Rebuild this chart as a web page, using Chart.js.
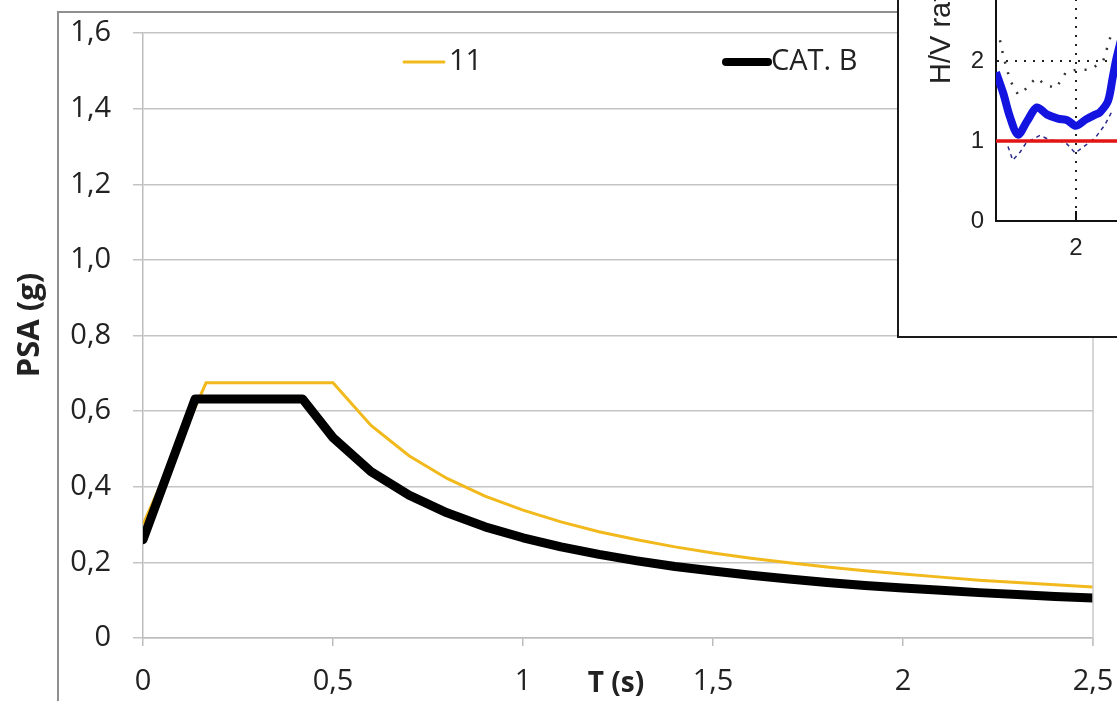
<!DOCTYPE html>
<html>
<head>
<meta charset="utf-8">
<script src="https://cdn.jsdelivr.net/npm/chart.js@4"></script>
<style>
  html, body { margin: 0; padding: 0; background: #fff; overflow: hidden; }
  #wrap { position: relative; width: 1117px; height: 701px; overflow: hidden; }
  #main { position: absolute; left: 0; top: 0; }
  #inset { position: absolute; left: 897px; top: -40px; width: 300px; height: 374px;
           border: 2px solid #1a1a1a; background: #fff; }
</style>
</head>
<body>
<div id="wrap">
  <canvas id="main" width="1117" height="701"></canvas>
  <div id="inset"><canvas id="hv" width="300" height="374"></canvas></div>
</div>
<script>
// Spectrum data (T in s, PSA in g)
var periodsB = [0, 0.137, 0.42, 0.5, 0.6, 0.7, 0.8, 0.9, 1.0, 1.1, 1.2, 1.3, 1.4, 1.5, 1.6, 1.7, 1.8, 1.9, 2.0, 2.1, 2.2, 2.3, 2.4, 2.5];
var catB = [0.26, 0.632, 0.632, 0.53, 0.44, 0.378, 0.331, 0.294, 0.265, 0.241, 0.221, 0.204, 0.189, 0.177, 0.166, 0.156, 0.147, 0.139, 0.132, 0.126, 0.12, 0.115, 0.11, 0.106];
var periods11 = [0, 0.166, 0.5, 0.6, 0.7, 0.8, 0.9, 1.0, 1.1, 1.2, 1.3, 1.4, 1.5, 1.6, 1.7, 1.8, 1.9, 2.0, 2.1, 2.2, 2.3, 2.4, 2.5];
var site11 = [0.3, 0.675, 0.675, 0.562, 0.482, 0.422, 0.375, 0.338, 0.307, 0.281, 0.26, 0.241, 0.225, 0.211, 0.199, 0.188, 0.178, 0.169, 0.161, 0.153, 0.147, 0.141, 0.135];
var xTicks = [0, 0.5, 1, 1.5, 2, 2.5];
var yTicks = [0, 0.2, 0.4, 0.6, 0.8, 1.0, 1.2, 1.4, 1.6];

// H/V inset data
var hvFreq = [1.0, 1.09, 1.175, 1.275, 1.39, 1.51, 1.64, 1.775, 1.89, 2.0, 2.125, 2.24, 2.3, 2.4, 2.46, 2.51, 2.65];
var hvMean = [1.86, 1.6, 1.3, 1.08, 1.25, 1.42, 1.33, 1.28, 1.26, 1.19, 1.27, 1.33, 1.36, 1.5, 1.8, 2.05, 2.6];
var hvLowFreq = [1.15, 1.21, 1.3, 1.38, 1.55, 1.68, 1.8, 1.88, 1.99, 2.11, 2.24, 2.36, 2.46];
var hvLow = [0.93, 0.76, 0.86, 0.98, 1.07, 1.01, 1.0, 0.97, 0.85, 0.94, 1.04, 1.2, 1.39];
var hvHighFreq = [1.05, 1.09, 1.175, 1.275, 1.36, 1.5, 1.625, 1.75, 1.875, 2.0, 2.175, 2.34, 2.46];
var hvHigh = [2.26, 2.07, 1.76, 1.58, 1.64, 1.79, 1.7, 1.66, 1.86, 1.89, 1.89, 2.0, 2.4];

function pts(xs, ys) {
  return xs.map(function (x, i) { return { x: x, y: ys[i] }; });
}
function comma(v) {
  return v === 0 ? "0" : String(v).replace(".", ",");
}
function noPad(s) {
  s.paddingLeft = 0; s.paddingRight = 0; s.paddingTop = 0; s.paddingBottom = 0;
}

var font = "'Open Sans', sans-serif";
var yellow = "#f2b91c";

// Extra decorations for the main chart
var mainDeco = {
  id: "mainDeco",
  beforeDraw: function (chart) {
    var ctx = chart.ctx;
    ctx.save();
    ctx.strokeStyle = "#8f8f8f";
    ctx.lineWidth = 2;
    ctx.strokeRect(58, 12, 2000, 2000);
    ctx.restore();
  },
  afterDraw: function (chart) {
    var ctx = chart.ctx;
    var a = chart.chartArea;
    ctx.save();
    // right edge of the plot area
    ctx.strokeStyle = "#c8c8c8";
    ctx.lineWidth = 1.5;
    ctx.beginPath();
    ctx.moveTo(a.right, a.top);
    ctx.lineTo(a.right, a.bottom + 8);
    ctx.stroke();
    // legend
    ctx.lineCap = "round";
    ctx.strokeStyle = yellow;
    ctx.lineWidth = 3;
    ctx.beginPath(); ctx.moveTo(404, 62); ctx.lineTo(444, 62); ctx.stroke();
    ctx.strokeStyle = "#000";
    ctx.lineWidth = 8;
    ctx.beginPath(); ctx.moveTo(726, 62); ctx.lineTo(768, 62); ctx.stroke();
    ctx.fillStyle = "#222";
    ctx.font = "29px " + font;
    ctx.textBaseline = "middle";
    ctx.fillText("11", 449, 62);
    ctx.fillText("CAT. B", 771, 62);
    // axis titles
    ctx.font = "bold 28px " + font;
    ctx.textAlign = "center";
    ctx.fillText("T (s)", 616, 684);
    ctx.font = "bold 31px " + font;
    ctx.translate(30, 325);
    ctx.rotate(-Math.PI / 2);
    ctx.fillText("PSA (g)", 0, 0);
    ctx.restore();
  }
};

new Chart(document.getElementById("main"), {
  type: "line",
  data: {
    datasets: [
      {
        label: "CAT. B",
        data: pts(periodsB, catB),
        borderColor: "#000",
        borderWidth: 9,
        borderJoinStyle: "round",
        borderCapStyle: "round",
        pointRadius: 0,
        order: 0
      },
      {
        label: "11",
        data: pts(periods11, site11),
        borderColor: yellow,
        borderWidth: 3,
        pointRadius: 0,
        order: 1
      }
    ]
  },
  options: {
    responsive: false,
    animation: false,
    layout: { padding: { left: 0, top: 33, right: 24, bottom: 0 } },
    plugins: { legend: { display: false }, tooltip: { enabled: false } },
    scales: {
      x: {
        type: "linear",
        min: 0,
        max: 2.5,
        afterFit: function (s) { s.height = 63; noPad(s); },
        afterBuildTicks: function (s) { s.ticks = xTicks.map(function (v) { return { value: v }; }); },
        ticks: {
          padding: 18,
          color: "#222",
          font: { family: font, size: 29 },
          callback: function (v) { return comma(v); }
        },
        grid: { drawOnChartArea: false, color: "#bdbdbd", lineWidth: 1.5, tickLength: 8 },
        border: { color: "#bdbdbd", width: 1.5 }
      },
      y: {
        min: 0,
        max: 1.6,
        afterFit: function (s) { s.width = 143; noPad(s); },
        afterBuildTicks: function (s) { s.ticks = yTicks.map(function (v) { return { value: v }; }); },
        ticks: {
          padding: 22,
          color: "#222",
          font: { family: font, size: 29 },
          callback: function (v) { return v === 0 ? "0" : v.toFixed(1).replace(".", ","); }
        },
        grid: { color: "#c4c4c4", lineWidth: 1.5, tickLength: 10 },
        border: { color: "#bdbdbd", width: 1.5 }
      }
    }
  },
  plugins: [mainDeco]
});

// Inset decorations: axis label and inward tick
var hvDeco = {
  id: "hvDeco",
  afterDraw: function (chart) {
    var ctx = chart.ctx;
    var a = chart.chartArea;
    var xs = chart.scales.x;
    ctx.save();
    ctx.strokeStyle = "#111";
    ctx.lineWidth = 2;
    ctx.beginPath();
    ctx.moveTo(xs.getPixelForValue(2), a.bottom);
    ctx.lineTo(xs.getPixelForValue(2), a.bottom - 10);
    ctx.stroke();
    ctx.fillStyle = "#222";
    ctx.font = "29px 'Liberation Sans', sans-serif";
    ctx.textBaseline = "middle";
    ctx.translate(43, 122);
    ctx.rotate(-Math.PI / 2);
    ctx.fillText("H/V ratio", 0, 0);
    ctx.restore();
  }
};

new Chart(document.getElementById("hv"), {
  type: "line",
  data: {
    datasets: [
      {
        data: pts([1, 3.5], [1, 1]),
        borderColor: "#e31414",
        borderWidth: 3.5,
        pointRadius: 0,
        order: 0
      },
      {
        data: pts(hvFreq, hvMean),
        borderColor: "#1414e0",
        borderWidth: 8,
        borderJoinStyle: "round",
        tension: 0.3,
        pointRadius: 0,
        order: 1
      },
      {
        data: pts(hvLowFreq, hvLow),
        borderColor: "#2a2a8a",
        borderWidth: 1.5,
        borderDash: [4, 4],
        pointRadius: 0,
        order: 2
      },
      {
        data: pts(hvHighFreq, hvHigh),
        borderColor: "#333",
        borderWidth: 2.5,
        borderDash: [2, 9],
        pointRadius: 0,
        order: 3
      }
    ]
  },
  options: {
    responsive: false,
    animation: false,
    layout: { padding: { left: 0, top: 19, right: 3, bottom: 0 } },
    plugins: { legend: { display: false }, tooltip: { enabled: false } },
    scales: {
      x: {
        type: "linear",
        min: 1,
        max: 3.5,
        afterFit: function (s) { s.height = 115; noPad(s); },
        afterBuildTicks: function (s) { s.ticks = [{ value: 2 }, { value: 3 }]; },
        ticks: {
          padding: 13,
          color: "#222",
          font: { family: "'Liberation Sans', sans-serif", size: 24 }
        },
        grid: { color: "#222", lineWidth: 2, tickLength: 0 },
        border: { color: "#111", width: 2, dash: [2, 7] }
      },
      y: {
        min: 0,
        max: 3,
        afterFit: function (s) { s.width = 97; noPad(s); },
        afterBuildTicks: function (s) { s.ticks = [{ value: 0 }, { value: 1 }, { value: 2 }, { value: 3 }]; },
        ticks: {
          padding: 12,
          color: "#222",
          font: { family: "'Liberation Sans', sans-serif", size: 24 }
        },
        grid: { color: "#222", lineWidth: 2, tickLength: 0 },
        border: { color: "#111", width: 2, dash: [2, 7] }
      }
    }
  },
  plugins: [hvDeco]
});
</script>
</body>
</html>
